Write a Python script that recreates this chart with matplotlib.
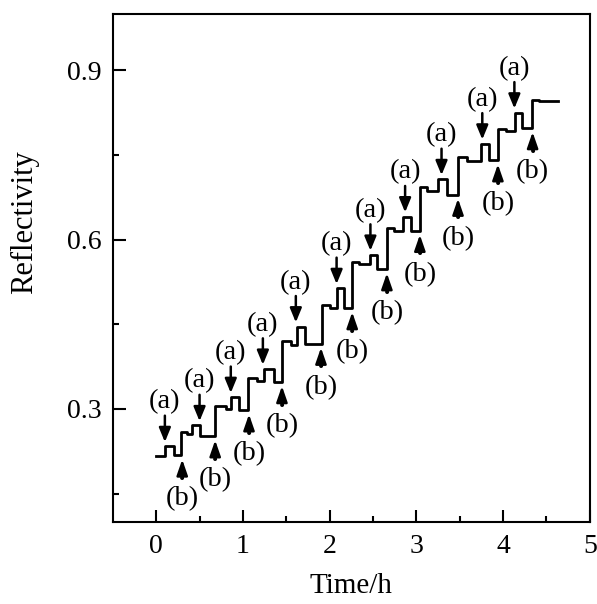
import matplotlib
matplotlib.use("Agg")
import matplotlib.pyplot as plt

plt.rcParams["font.family"] = ["Liberation Serif", "DejaVu Serif"]

# step trace of the reflectivity (time in h, value)
time_h = [0.00, 0.10, 0.21,
          0.29, 0.35, 0.41, 0.51,
          0.68, 0.80, 0.86, 0.95,
          1.06, 1.16, 1.24, 1.36,
          1.45, 1.55, 1.62, 1.71,
          1.91, 2.00, 2.09, 2.17,
          2.26, 2.34, 2.46, 2.55,
          2.66, 2.74, 2.84, 2.94,
          3.04, 3.12, 3.25, 3.35,
          3.48, 3.58, 3.75, 3.84,
          3.94, 4.03, 4.14, 4.22,
          4.33, 4.41, 4.63]
reflect = [0.216, 0.234, 0.218,
           0.259, 0.255, 0.271, 0.252,
           0.305, 0.300, 0.321, 0.298,
           0.354, 0.350, 0.371, 0.348,
           0.420, 0.414, 0.446, 0.416,
           0.484, 0.479, 0.514, 0.479,
           0.560, 0.556, 0.573, 0.548,
           0.621, 0.616, 0.641, 0.616,
           0.693, 0.687, 0.707, 0.680,
           0.746, 0.740, 0.770, 0.741,
           0.796, 0.793, 0.825, 0.798,
           0.848, 0.845, 0.845]

# (a) arrows: pulse tops
a_time = [0.10, 0.50, 0.86, 1.23, 1.61, 2.08, 2.47, 2.87, 3.29, 3.76, 4.13]
a_refl = [0.234, 0.271, 0.321, 0.371, 0.446, 0.514, 0.573, 0.641, 0.707, 0.770, 0.825]
# (b) arrows: bottom level before each big step
b_time = [0.30, 0.68, 1.07, 1.45, 1.90, 2.26, 2.66, 3.04, 3.48, 3.94, 4.34]
b_refl = [0.218, 0.252, 0.298, 0.348, 0.416, 0.479, 0.548, 0.616, 0.680, 0.741, 0.798]

fig = plt.figure(figsize=(5.97, 6.04), dpi=100)
ax = fig.add_axes([0.189, 0.136, 0.799, 0.841])

ax.step(time_h, reflect, where="post", color="black", lw=2.0)

for t, r in zip(a_time, a_refl):
    ax.annotate("", xy=(t, r), xytext=(0, 22), textcoords="offset points",
                arrowprops=dict(arrowstyle="-|>,head_length=0.85,head_width=0.35",
                                color="black", lw=1.8, shrinkA=0, shrinkB=3))
    ax.annotate("(a)", xy=(t, r), xytext=(0, 32), textcoords="offset points",
                ha="center", va="center", fontsize=20.5)

for t, r in zip(b_time, b_refl):
    ax.annotate("", xy=(t, r), xytext=(0, -16), textcoords="offset points",
                arrowprops=dict(arrowstyle="-|>,head_length=0.95,head_width=0.33",
                                color="black", lw=1.8, shrinkA=0, shrinkB=3))
    ax.annotate(".", xy=(t, r), xytext=(0, -21.5), textcoords="offset points",
                ha="center", va="bottom", fontsize=18, fontweight="bold")
    ax.annotate("(b)", xy=(t, r), xytext=(0, -31.5), textcoords="offset points",
                ha="center", va="center", fontsize=20.5)

ax.set_xlim(-0.5, 5)
ax.set_ylim(0.1, 1.0)
ax.set_xticks([0, 1, 2, 3, 4, 5])
ax.set_xticks([0.5, 1.5, 2.5, 3.5, 4.5], minor=True)
ax.set_yticks([0.3, 0.6, 0.9])
ax.set_yticks([0.15, 0.45, 0.75], minor=True)
ax.set_yticklabels(["0.3", "0.6", "0.9"])

ax.tick_params(which="both", direction="in", width=1.5, labelsize=20)
ax.tick_params(which="major", length=9)
ax.tick_params(which="minor", length=4.5)
ax.tick_params(axis="x", pad=9)
ax.tick_params(axis="y", pad=8)
for s in ax.spines.values():
    s.set_linewidth(1.5)

ax.set_xlabel("Time/h", fontsize=21, labelpad=10)
ax.set_ylabel("Reflectivity", fontsize=22)
ax.yaxis.set_label_coords(-0.155, 0.59)

fig.savefig("out.png", dpi=100)
